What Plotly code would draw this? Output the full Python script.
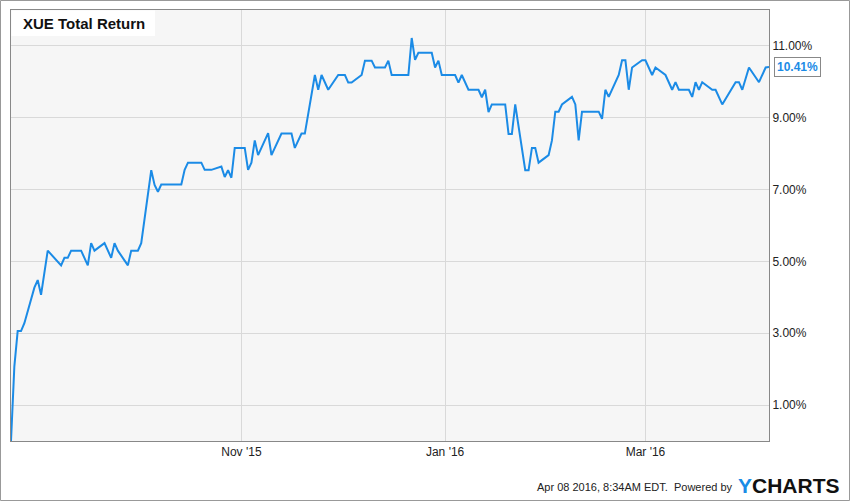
import plotly.graph_objects as go

# ---- data ----
dates = [
    "2015-08-24", "2015-08-25", "2015-08-26", "2015-08-27", "2015-08-28", "2015-08-31",
    "2015-09-01", "2015-09-02", "2015-09-04", "2015-09-08", "2015-09-09", "2015-09-10",
    "2015-09-11", "2015-09-14", "2015-09-16", "2015-09-17", "2015-09-18", "2015-09-21",
    "2015-09-23", "2015-09-24", "2015-09-25", "2015-09-28", "2015-09-29", "2015-10-01",
    "2015-10-02", "2015-10-05", "2015-10-06", "2015-10-07", "2015-10-08", "2015-10-14",
    "2015-10-15", "2015-10-16", "2015-10-20", "2015-10-21", "2015-10-23", "2015-10-26",
    "2015-10-27", "2015-10-28", "2015-10-29", "2015-10-30", "2015-11-02", "2015-11-03",
    "2015-11-04", "2015-11-05", "2015-11-06", "2015-11-09", "2015-11-10", "2015-11-13",
    "2015-11-16", "2015-11-17", "2015-11-19", "2015-11-20", "2015-11-23", "2015-11-24",
    "2015-11-25", "2015-11-27", "2015-11-30", "2015-12-02", "2015-12-03", "2015-12-04",
    "2015-12-07", "2015-12-08", "2015-12-10", "2015-12-11", "2015-12-14", "2015-12-15",
    "2015-12-16", "2015-12-21", "2015-12-22", "2015-12-23", "2015-12-24", "2015-12-28",
    "2015-12-29", "2015-12-30", "2015-12-31", "2016-01-04", "2016-01-05", "2016-01-06",
    "2016-01-08", "2016-01-11", "2016-01-12", "2016-01-13", "2016-01-14", "2016-01-15",
    "2016-01-19", "2016-01-20", "2016-01-21", "2016-01-22", "2016-01-25", "2016-01-26",
    "2016-01-27", "2016-01-28", "2016-01-29", "2016-02-01", "2016-02-02", "2016-02-03",
    "2016-02-04", "2016-02-05", "2016-02-08", "2016-02-09", "2016-02-10", "2016-02-11",
    "2016-02-16", "2016-02-17", "2016-02-18", "2016-02-19", "2016-02-22", "2016-02-23",
    "2016-02-24", "2016-02-25", "2016-02-26", "2016-02-29", "2016-03-01", "2016-03-03",
    "2016-03-04", "2016-03-07", "2016-03-09", "2016-03-10", "2016-03-11", "2016-03-14",
    "2016-03-15", "2016-03-16", "2016-03-17", "2016-03-18", "2016-03-21", "2016-03-22",
    "2016-03-24", "2016-03-28", "2016-03-29", "2016-03-30", "2016-04-01", "2016-04-04",
    "2016-04-06", "2016-04-07",
]
total_return = [
    0.00, 2.07, 3.06, 3.06, 3.28, 4.27,
    4.48, 4.07, 5.30, 4.89, 5.10, 5.10,
    5.30, 5.30, 4.89, 5.51, 5.30, 5.51,
    5.10, 5.51, 5.30, 4.89, 5.30, 5.30,
    5.51, 7.54, 7.13, 6.94, 7.14, 7.14,
    7.55, 7.75, 7.75, 7.55, 7.55, 7.64,
    7.35, 7.54, 7.33, 8.16, 8.16, 7.55,
    7.75, 8.37, 7.96, 8.57, 7.96, 8.56,
    8.56, 8.16, 8.56, 8.56, 10.19, 9.78,
    10.19, 9.78, 10.19, 10.19, 9.98, 9.98,
    10.19, 10.59, 10.59, 10.40, 10.40, 10.59,
    10.19, 10.19, 11.22, 10.61, 10.81, 10.81,
    10.40, 10.59, 10.19, 10.19, 9.98, 10.19,
    9.78, 9.78, 9.57, 9.78, 9.16, 9.37,
    9.37, 8.55, 8.55, 9.37, 7.54, 7.54,
    8.16, 8.16, 7.75, 7.96, 8.37, 9.17,
    9.17, 9.37, 9.58, 9.37, 8.37, 9.17,
    9.17, 8.97, 9.78, 9.58, 10.19, 10.60,
    10.60, 9.78, 10.40, 10.60, 10.60, 10.19,
    10.40, 10.19, 9.78, 9.99, 9.78, 9.78,
    9.58, 9.99, 9.78, 9.99, 9.78, 9.78,
    9.37, 9.99, 9.99, 9.78, 10.40, 9.99,
    10.40, 10.41,
]
y_tick_vals = [1, 3, 5, 7, 9, 11]
y_tick_text = ["1.00%", "3.00%", "5.00%", "7.00%", "9.00%", "11.00%"]
x_tick_vals = ["2015-11-01", "2016-01-01", "2016-03-01"]
x_tick_text = ["Nov '15", "Jan '16", "Mar '16"]
title_text = "XUE Total Return"
last_label = "10.41%"
footer_text = "Apr 08 2016, 8:34AM EDT.  Powered by"

LINE = "#1b8be6"
FONT = "Liberation Sans, Arial, sans-serif"

W, H = 850, 501
ML, MR, MT, MB = 11, 81, 10, 60
PW, PH = W - ML - MR, H - MT - MB


def px(xp):
    return (xp - ML) / PW


def py(yp):
    return (H - MB - yp) / PH


fig = go.Figure()
fig.add_trace(go.Scatter(
    x=dates, y=total_return, mode="lines",
    line=dict(color=LINE, width=2), hoverinfo="skip", showlegend=False,
))

fig.update_layout(
    width=W, height=H,
    margin=dict(l=ML, r=MR, t=MT, b=MB),
    paper_bgcolor="white", plot_bgcolor="#f6f6f6",
    font=dict(family=FONT, size=12, color="#333333"),
    showlegend=False,
    xaxis=dict(
        range=["2015-08-24", "2016-04-07"],
        tickvals=x_tick_vals, ticktext=x_tick_text,
        showgrid=True, gridcolor="#d9d9d9", gridwidth=1,
        showline=True, linecolor="#888888", linewidth=1, mirror=True,
        zeroline=False, ticks="", tickfont=dict(size=12, color="#222222"),
        fixedrange=True,
    ),
    yaxis=dict(
        range=[0, 12], side="right",
        tickvals=y_tick_vals, ticktext=y_tick_text,
        showgrid=True, gridcolor="#d9d9d9", gridwidth=1,
        showline=True, linecolor="#888888", linewidth=1, mirror=True,
        zeroline=False, ticks="", tickfont=dict(size=12, color="#222222"),
        fixedrange=True,
    ),
)

shapes = [
    # outer border
    dict(type="rect", xref="paper", yref="paper",
         x0=px(0.5), x1=px(W - 0.5), y0=py(H - 0.5), y1=py(0.5),
         line=dict(color="#999999", width=1), fillcolor="rgba(0,0,0,0)", layer="above"),
    # title box
    dict(type="rect", xref="paper", yref="paper",
         x0=px(11.5), x1=px(155), y0=py(36), y1=py(10.5),
         line=dict(width=0), fillcolor="white", layer="above"),
    # pointer of last-value label
    dict(type="path", xref="x", yref="y", xsizemode="pixel", ysizemode="pixel",
         xanchor=dates[-1], yanchor=total_return[-1],
         path="M 6,-5 L 1,0 L 6,5 Z",
         line=dict(color="#888888", width=1), fillcolor="white", layer="above"),
]
fig.update_layout(shapes=shapes)

annotations = [
    dict(text="<b>" + title_text + "</b>", xref="paper", yref="paper",
         x=px(21), y=py(24), xanchor="left", yanchor="middle", showarrow=False,
         font=dict(family=FONT, size=15, color="#111111")),
    dict(text="<b>" + last_label + "</b>", xref="x", yref="y",
         x=dates[-1], y=total_return[-1], xanchor="left", yanchor="middle",
         xshift=5, showarrow=False, bgcolor="white", bordercolor="#888888",
         borderwidth=1, borderpad=2,
         font=dict(family=FONT, size=12, color=LINE)),
    dict(text=footer_text, xref="paper", yref="paper",
         x=px(735), y=py(487), xanchor="right", yanchor="middle", showarrow=False,
         font=dict(family=FONT, size=11, color="#222222")),
    dict(text="<b><span style='color:#1a8ce6'>Y</span>CHARTS</b>", xref="paper", yref="paper",
         x=px(736), y=py(485), xanchor="left", yanchor="middle", showarrow=False,
         font=dict(family=FONT, size=21, color="#111111")),
]
fig.update_layout(annotations=annotations)

fig.write_html(
    "out.html",
    config={"displayModeBar": False},
    post_script="document.body.style.margin='0';document.body.style.overflow='hidden';",
)
